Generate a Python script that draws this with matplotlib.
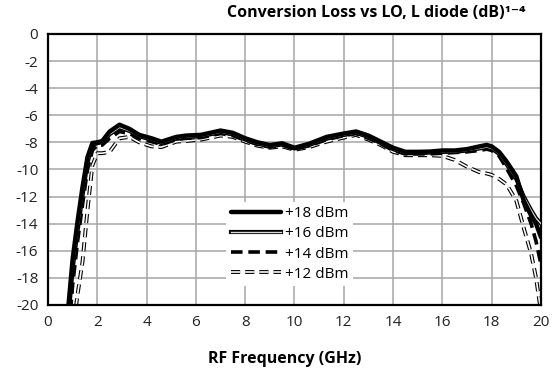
import matplotlib
matplotlib.use("Agg")
import matplotlib.pyplot as plt
import matplotlib.patheffects as pe

plt.rcParams['font.family'] = ['Open Sans', 'DejaVu Sans']

freq = [0.8, 1.0, 1.2, 1.4, 1.6, 1.8, 2.0, 2.2, 2.5, 2.9, 3.3, 3.7, 4.2, 4.6, 5.2, 5.6,
        6.2, 7.0, 7.5, 8.0, 8.5, 9.0, 9.5, 10.0, 10.6, 11.3, 12.0, 12.5, 13.0, 13.5,
        14.0, 14.5, 15.0, 15.5, 16.0, 16.5, 17.0, 17.5, 17.8, 18.0, 18.3, 18.6, 19.0,
        19.3, 19.6, 19.8, 20.0]

lo18 = [-20.6, -16.6, -13.8, -11.3, -9.1, -8.05, -8.0, -7.9, -7.2, -6.7, -7.0, -7.45,
        -7.7, -7.95, -7.6, -7.5, -7.45, -7.13, -7.3, -7.7, -8.0, -8.2, -8.07, -8.4,
        -8.1, -7.6, -7.35, -7.2, -7.5, -7.95, -8.4, -8.7, -8.7, -8.68, -8.6, -8.6,
        -8.5, -8.3, -8.19, -8.3, -8.7, -9.4, -10.5, -12.3, -13.4, -14.0, -15.0]

lo16 = [-21.5, -17.3, -14.5, -11.9, -9.5, -8.2, -8.05, -8.0, -7.4, -6.9, -7.15, -7.55,
        -7.8, -8.05, -7.7, -7.6, -7.55, -7.25, -7.4, -7.8, -8.1, -8.3, -8.15, -8.45,
        -8.2, -7.7, -7.45, -7.3, -7.6, -8.05, -8.5, -8.8, -8.8, -8.75, -8.7, -8.7,
        -8.6, -8.45, -8.35, -8.45, -8.85, -9.6, -10.7, -12.0, -13.0, -13.6, -14.0]

lo14 = [-23.0, -18.5, -15.3, -12.6, -10.0, -8.6, -8.2, -8.2, -7.7, -7.2, -7.35, -7.7,
        -7.95, -8.15, -7.8, -7.7, -7.65, -7.35, -7.5, -7.85, -8.15, -8.35, -8.2, -8.5,
        -8.25, -7.8, -7.5, -7.35, -7.7, -8.1, -8.6, -8.85, -8.85, -8.85, -8.8, -8.75,
        -8.7, -8.6, -8.5, -8.6, -9.0, -9.9, -11.2, -12.5, -14.0, -15.3, -17.0]

lo12 = [-28.0, -22.0, -19.2, -16.8, -13.0, -9.7, -8.8, -8.8, -8.7, -7.7, -7.6, -8.0,
        -8.3, -8.35, -7.95, -7.9, -7.8, -7.5, -7.6, -7.95, -8.25, -8.4, -8.3, -8.55,
        -8.35, -7.95, -7.65, -7.45, -7.8, -8.2, -8.7, -8.95, -8.95, -8.95, -9.0, -9.3,
        -9.8, -10.2, -10.3, -10.4, -10.7, -11.1, -12.3, -14.3, -16.2, -18.0, -20.5]

labels = ['+18 dBm', '+16 dBm', '+14 dBm', '+12 dBm']
xticks = [0, 2, 4, 6, 8, 10, 12, 14, 16, 18, 20]
yticks = [0, -2, -4, -6, -8, -10, -12, -14, -16, -18, -20]

fig = plt.figure(figsize=(5.52, 3.77), dpi=100)
ax = fig.add_axes([0.087, 0.191, 0.893, 0.719])

ax.plot(freq, lo18, color='black', lw=3.2, solid_capstyle='round', label=labels[0], zorder=5)
ax.plot(freq, lo16, color='#d9d9d9', lw=1.0, label=labels[1], zorder=4,
        path_effects=[pe.Stroke(linewidth=3.0, foreground='black'), pe.Normal()])
ax.plot(freq, lo14, color='black', lw=2.6, dashes=(3.2, 1.6), label=labels[2], zorder=3)
ax.plot(freq, lo12, color='white', lw=1.2, dashes=(5.5, 3.0), label=labels[3], zorder=2,
        path_effects=[pe.Stroke(linewidth=2.8, foreground='black'), pe.Normal()])

ax.set_xlim(0, 20)
ax.set_ylim(-20, 0)
ax.set_xticks(xticks)
ax.set_yticks(yticks)
ax.set_xticklabels([str(t) for t in xticks])
ax.set_yticklabels([str(t) for t in yticks])
ax.tick_params(length=0, labelsize=11, pad=7, colors='#222222')
ax.grid(True, color='#a6a6a6', lw=1.1)
ax.set_axisbelow(True)
for s in ax.spines.values():
    s.set_linewidth(1.6)
    s.set_color('black')

ax.set_xlabel('RF Frequency (GHz)', fontsize=11.5, fontweight='bold', labelpad=15)
ax.xaxis.label.set_x(0.481)
fig.text(0.681, 0.966, 'Conversion Loss vs LO, L diode (dB)\u00b9\u207b\u2074', ha='center',
         va='center', fontsize=11.5, fontweight='bold')

leg = ax.legend(loc='center', bbox_to_anchor=(0.49, 0.225), frameon=True, fontsize=11,
                handlelength=3.3, handletextpad=0.25, labelspacing=0.33, borderpad=0.3)
leg.get_frame().set_edgecolor('none')
leg.get_frame().set_facecolor('white')
leg.get_frame().set_alpha(1)

fig.savefig('out.png', dpi=100)
